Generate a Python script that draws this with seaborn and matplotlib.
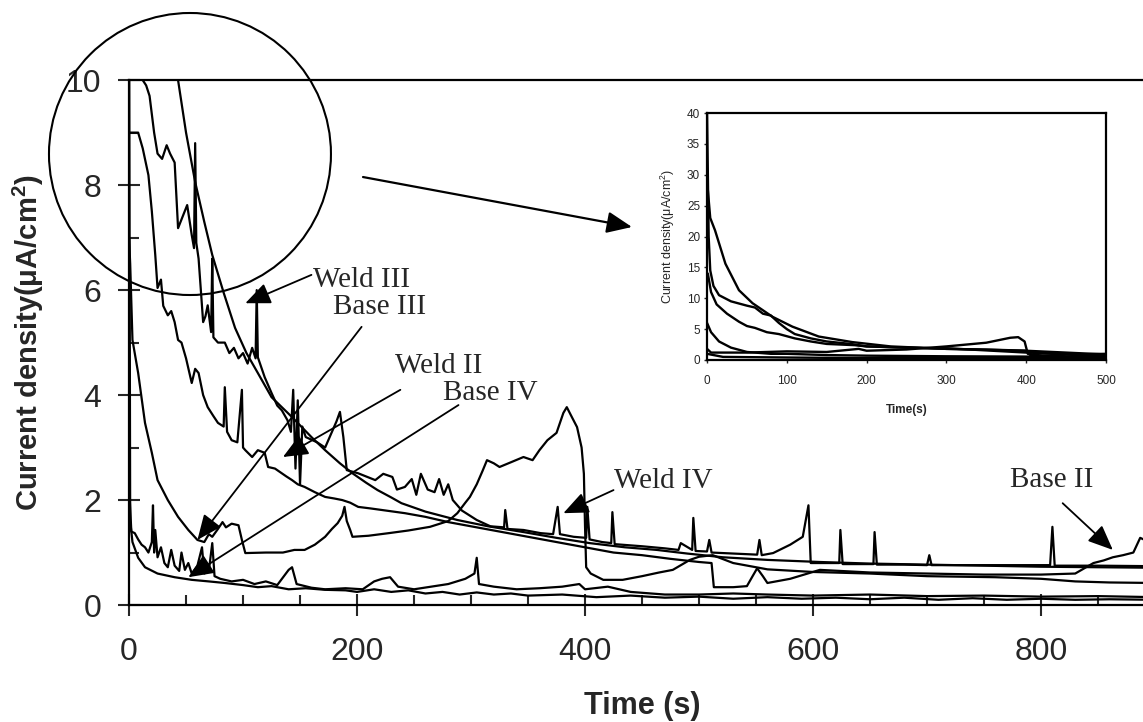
import numpy as np
import pandas as pd
import matplotlib
matplotlib.use('Agg')
import matplotlib.pyplot as plt
from matplotlib.patches import Ellipse
from matplotlib.ticker import MultipleLocator
import seaborn as sns

# main chart curves (time in s, current density in uA/cm2)
weld3_t = [38, 43, 50, 58, 66, 73, 83, 93, 103, 113, 125, 143, 160, 172, 185, 196, 208, 218, 230, 239,
           260, 288, 315, 346, 375, 404, 435, 463, 490, 521, 560, 606, 650, 700, 750, 800, 850, 900]
weld3_j = [11.0, 10.0, 9.0, 8.06, 7.3, 6.67, 5.95, 5.28, 4.8, 4.42, 3.96, 3.58, 3.2, 2.95, 2.7, 2.51, 2.33, 2.19, 2.05, 1.94,
           1.78, 1.62, 1.5, 1.39, 1.28, 1.18, 1.1, 1.05, 0.98, 0.91, 0.86, 0.82, 0.79, 0.77, 0.75, 0.73, 0.72, 0.71]

base3_t = [10, 12, 15, 18, 22, 25, 29, 33, 36, 40, 43, 47, 51, 55, 57, 58, 59, 61, 63, 65,
           67, 69, 72, 73, 74, 78, 84, 88, 92, 96, 100, 104, 108, 111, 112, 113, 119, 125, 130, 134,
           139, 142, 144, 146, 148, 150, 152, 155, 165, 172, 178, 182, 185, 188, 191, 201, 208, 216, 223, 231,
           235, 242, 248, 252, 256, 262, 268, 272, 276, 280, 284, 292, 305, 317, 329, 330, 332, 346, 361, 372,
           376, 378, 390, 401, 402, 404, 415, 423, 424, 426, 450, 470, 482, 484, 494, 495, 497, 507, 509, 511,
           530, 551, 553, 555, 565, 580, 591, 596, 598, 610, 623, 624, 626, 640, 653, 654, 656, 680, 700, 702,
           704, 740, 780, 808, 810, 812, 850, 900]
base3_j = [11.0, 10.0, 9.9, 9.7, 9.0, 8.6, 8.5, 8.76, 8.6, 8.43, 7.18, 7.4, 7.62, 7.05, 6.8, 8.8, 6.9, 6.6, 6.0, 5.39,
           5.5, 5.71, 5.2, 6.6, 5.1, 5.0, 5.0, 4.8, 4.9, 4.7, 4.8, 4.6, 4.9, 4.7, 6.0, 4.72, 4.34, 4.04, 3.8, 3.71,
           3.52, 3.3, 4.1, 2.6, 3.9, 2.3, 3.4, 3.2, 3.1, 3.0, 3.3, 3.5, 3.68, 3.2, 2.57, 2.51, 2.45, 2.38, 2.5, 2.44,
           2.2, 2.25, 2.4, 2.1, 2.5, 2.2, 2.15, 2.4, 2.1, 2.3, 2.0, 1.8, 1.62, 1.5, 1.48, 1.81, 1.45, 1.43, 1.37, 1.35,
           1.87, 1.35, 1.3, 1.28, 1.87, 1.25, 1.2, 1.18, 1.77, 1.16, 1.12, 1.08, 1.05, 1.18, 1.05, 1.66, 1.03, 1.02, 1.24, 1.0,
           0.98, 0.96, 1.24, 0.95, 0.99, 1.15, 1.3, 1.9, 0.8, 0.8, 0.8, 1.43, 0.78, 0.78, 0.78, 1.39, 0.77, 0.77, 0.76, 0.95,
           0.76, 0.76, 0.76, 0.76, 1.49, 0.75, 0.75, 0.74]

weld2_t = [0, 8, 12, 17, 20, 23, 25, 28, 30, 34, 37, 40, 43, 46, 50, 55, 58, 61, 65, 69,
           74, 78, 83, 84, 86, 90, 95, 99, 100, 102, 108, 113, 119, 122, 128, 134, 138, 143, 148, 154,
           163, 172, 180, 187, 194, 201, 212, 222, 232, 242, 260, 280, 300, 325, 350, 375, 400, 425, 450, 475,
           500, 511, 513, 530, 542, 547, 551, 556, 560, 580, 606, 650, 700, 750, 800, 830, 846, 855, 863, 872,
           881, 887, 895, 900]
weld2_j = [9.0, 9.0, 8.7, 8.19, 7.5, 6.67, 6.04, 6.2, 5.7, 5.52, 5.6, 5.39, 5.05, 5.0, 4.7, 4.23, 4.5, 4.42, 4.0, 3.77,
           3.6, 3.47, 3.4, 4.15, 3.3, 3.14, 3.1, 4.1, 3.0, 2.95, 2.82, 2.95, 2.9, 2.63, 2.6, 2.51, 2.45, 2.38, 2.3, 2.25,
           2.15, 2.06, 2.03, 2.0, 1.95, 1.87, 1.84, 1.81, 1.78, 1.75, 1.68, 1.58, 1.5, 1.4, 1.3, 1.2, 1.1, 1.0, 0.95, 0.88,
           0.82, 0.8, 0.34, 0.34, 0.36, 0.55, 0.7, 0.55, 0.42, 0.5, 0.67, 0.62, 0.6, 0.58, 0.58, 0.6, 0.8, 0.85, 0.91, 0.95,
           1.0, 1.28, 1.2, 1.3]

weld4_t = [0, 1, 3, 8, 14, 20, 25, 34, 43, 52, 60, 66, 70, 73, 78, 82, 85, 90, 96, 99,
           102, 120, 135, 145, 154, 163, 172, 178, 183, 187, 189, 191, 194, 196, 210, 228, 245, 264, 280, 288,
           295, 299, 305, 310, 314, 320, 325, 335, 346, 354, 360, 367, 375, 381, 384, 388, 393, 397, 399, 400,
           401, 405, 416, 433, 450, 465, 477, 492, 500, 512, 530, 560, 600, 650, 700, 760, 800, 830, 860, 900]
weld4_j = [7.0, 6.5, 5.05, 4.42, 3.47, 2.9, 2.38, 2.0, 1.68, 1.43, 1.24, 1.2, 1.35, 1.3, 1.45, 1.58, 1.48, 1.55, 1.52, 1.24,
           0.99, 1.0, 1.0, 1.05, 1.05, 1.15, 1.3, 1.45, 1.56, 1.7, 1.87, 1.6, 1.43, 1.3, 1.32, 1.37, 1.42, 1.49, 1.6, 1.75,
           1.95, 2.06, 2.3, 2.55, 2.76, 2.7, 2.63, 2.72, 2.82, 2.76, 2.95, 3.14, 3.28, 3.66, 3.77, 3.6, 3.39, 3.0, 2.5, 1.5,
           0.72, 0.6, 0.48, 0.48, 0.55, 0.62, 0.67, 0.86, 0.92, 0.95, 0.8, 0.68, 0.63, 0.6, 0.55, 0.53, 0.5, 0.45, 0.43, 0.42]

base4_t = [0, 2, 5, 8, 11, 14, 17, 20, 21, 22, 23, 25, 28, 31, 34, 37, 40, 44, 46, 49,
           52, 55, 60, 64, 66, 70, 73, 75, 80, 90, 100, 110, 120, 130, 140, 143, 147, 160, 172, 190,
           205, 215, 222, 229, 236, 250, 265, 280, 295, 303, 305, 307, 320, 340, 360, 380, 395, 400, 420, 440,
           470, 500, 530, 560, 600, 650, 700, 750, 800, 850, 900]
base4_j = [2.3, 1.4, 1.37, 1.25, 1.15, 1.1, 1.0, 1.2, 1.9, 1.0, 1.43, 0.91, 1.1, 0.8, 0.72, 1.05, 0.75, 0.65, 1.0, 0.67,
           0.8, 0.6, 0.75, 1.1, 0.6, 0.65, 1.18, 0.55, 0.5, 0.45, 0.48, 0.4, 0.45, 0.38, 0.67, 0.72, 0.4, 0.33, 0.3, 0.32,
           0.3, 0.45, 0.5, 0.53, 0.35, 0.3, 0.35, 0.4, 0.5, 0.6, 0.9, 0.4, 0.35, 0.3, 0.32, 0.35, 0.4, 0.3, 0.35, 0.25,
           0.2, 0.2, 0.22, 0.2, 0.18, 0.2, 0.17, 0.18, 0.16, 0.17, 0.15]

base2_t = [0, 1, 3, 8, 14, 25, 40, 55, 70, 84, 100, 113, 125, 140, 155, 172, 190, 200, 215, 230,
           245, 260, 275, 290, 305, 320, 335, 350, 380, 410, 440, 470, 500, 530, 560, 590, 620, 650, 680, 710,
           740, 770, 800, 830, 860, 900]
base2_j = [12.0, 1.6, 1.2, 0.9, 0.72, 0.6, 0.53, 0.48, 0.45, 0.42, 0.38, 0.34, 0.36, 0.3, 0.32, 0.29, 0.28, 0.25, 0.3, 0.25,
           0.28, 0.22, 0.25, 0.2, 0.24, 0.2, 0.22, 0.18, 0.2, 0.15, 0.18, 0.14, 0.16, 0.12, 0.15, 0.12, 0.14, 0.11, 0.14, 0.1,
           0.13, 0.1, 0.12, 0.1, 0.11, 0.1]

# inset curves (0-500 s)
in_a_t = [0, 1, 2, 4, 8, 15, 30, 50, 60, 70, 80, 90, 100, 110, 130, 150, 180, 200, 250, 300, 350, 400, 405, 450, 500]
in_a_j = [40, 30, 20, 14.5, 12, 10.5, 9.5, 8.8, 8.5, 7.5, 7.2, 6.0, 5.0, 4.2, 3.5, 3.0, 2.6, 2.2, 2.0, 1.8, 1.7, 1.5, 0.8, 0.6, 0.7]
in_b_t = [1, 4, 10, 23, 40, 57, 82, 107, 140, 182, 230, 300, 400, 500]
in_b_j = [27.5, 23, 21, 15.6, 11.3, 9.2, 7.0, 5.4, 3.8, 2.9, 2.2, 1.8, 1.5, 0.9]
in_c_t = [1, 5, 12, 25, 40, 50, 60, 75, 90, 110, 130, 150, 185, 200, 250, 300, 400, 500]
in_c_j = [14, 11, 9, 7.5, 6.2, 5.5, 5.2, 4.5, 4.2, 3.5, 3.0, 2.6, 2.4, 2.2, 2.0, 1.9, 1.2, 0.8]
in_d_t = [0, 5, 15, 30, 50, 80, 100, 150, 200, 300, 500]
in_d_j = [6, 4.5, 3, 2, 1.3, 1.0, 1.0, 0.8, 0.7, 0.6, 0.5]
in_e_t = [0, 5, 50, 100, 150, 190, 200, 250, 300, 350, 380, 390, 398, 402, 420, 450, 500]
in_e_j = [1.8, 1.2, 1.2, 1.4, 1.3, 1.8, 1.5, 1.7, 2.2, 2.8, 3.6, 3.7, 3.0, 1.0, 0.7, 0.9, 1.0]
in_f_t = [0, 20, 100, 200, 300, 400, 500]
in_f_j = [1.0, 0.5, 0.4, 0.3, 0.3, 0.3, 0.3]


def to_frame(curves):
    parts = [pd.DataFrame({'t': t, 'j': j, 'curve': name}) for name, t, j in curves]
    return pd.concat(parts, ignore_index=True)


main_df = to_frame([('Weld III', weld3_t, weld3_j), ('Base III', base3_t, base3_j),
                    ('Weld II', weld2_t, weld2_j), ('Weld IV', weld4_t, weld4_j),
                    ('Base IV', base4_t, base4_j), ('Base II', base2_t, base2_j)])
inset_df = to_frame([('a', in_a_t, in_a_j), ('b', in_b_t, in_b_j), ('c', in_c_t, in_c_j),
                     ('d', in_d_t, in_d_j), ('e', in_e_t, in_e_j), ('f', in_f_t, in_f_j)])

sns.set_style('ticks')
plt.rcParams['font.family'] = ['Liberation Sans', 'DejaVu Sans']
plt.rcParams['mathtext.fontset'] = 'custom'
plt.rcParams['mathtext.rm'] = 'Liberation Sans'
plt.rcParams['mathtext.bf'] = 'Liberation Sans:bold'

fig = plt.figure(figsize=(11.43, 7.22), dpi=100)
ax = fig.add_axes([0.1129, 0.162, 0.8976, 0.727])

sns.lineplot(data=main_df, x='t', y='j', units='curve', estimator=None, sort=False,
             color='black', lw=1.6, ax=ax, legend=False)

ax.set_xlim(0, 900)
ax.set_ylim(0, 10)
ax.set_xticks([0, 200, 400, 600, 800])
ax.set_yticks([0, 2, 4, 6, 8, 10])
ax.xaxis.set_minor_locator(MultipleLocator(50))
ax.yaxis.set_minor_locator(MultipleLocator(1))
ax.xaxis.set_ticks_position('bottom')
ax.yaxis.set_ticks_position('left')
ax.tick_params(which='major', direction='inout', length=16, width=1.5, labelsize=23)
ax.tick_params(which='minor', direction='in', length=7, width=1.5)
ax.tick_params(axis='x', which='major', pad=15)
ax.tick_params(axis='y', which='major', pad=12)
for side in ['left', 'bottom', 'top']:
    ax.spines[side].set_linewidth(1.6)
    ax.spines[side].set_color('black')
ax.spines['right'].set_visible(False)

ax.set_xlabel('Time (s)', fontsize=22, fontweight='bold')
ax.set_ylabel('Current density(μA/cm$^\\mathbf{2}$)', fontsize=21, fontweight='bold')
ax.xaxis.set_label_coords(0.5, -0.164)
ax.yaxis.set_label_coords(-0.081, 0.5)

# curve labels with arrows
labels = ['Weld III', 'Base III', 'Weld II', 'Base IV', 'Weld IV', 'Base II']
label_pos = [(161, 6.19), (179, 5.68), (233, 4.55), (275, 4.04), (425, 2.36), (773, 2.38)]
arrow_tail = [(160, 6.29), (204, 5.3), (238, 4.1), (289, 3.81), (425, 2.19), (819, 1.94)]
arrow_head = [(102, 5.75), (60, 1.24), (135, 2.82), (52, 0.53), (381, 1.75), (863, 1.05)]
for txt, pos, tail, head in zip(labels, label_pos, arrow_tail, arrow_head):
    ax.text(pos[0], pos[1], txt, fontsize=21, family=['Liberation Serif', 'DejaVu Serif'],
            ha='left', va='center')
    ax.annotate('', xy=head, xytext=tail,
                arrowprops=dict(arrowstyle='-|>,head_length=0.7,head_width=0.3',
                                color='black', lw=1.3, mutation_scale=22, shrinkA=0, shrinkB=0))

# circle around the early part and the arrow to the inset
fig.patches.append(Ellipse((0.1662, 0.7867), 0.2467, 0.3906, transform=fig.transFigure,
                           fill=False, edgecolor='black', lw=1.5))
ax.annotate('', xy=(0.5529, 0.6856), xycoords='figure fraction',
            xytext=(0.3176, 0.7548), textcoords='figure fraction',
            arrowprops=dict(arrowstyle='-|>,head_length=0.7,head_width=0.3',
                            color='black', lw=1.6, mutation_scale=22, shrinkA=0, shrinkB=0))

# inset: the full range
ax2 = fig.add_axes([0.6186, 0.5014, 0.349, 0.342])
sns.lineplot(data=inset_df, x='t', y='j', units='curve', estimator=None, sort=False,
             color='black', lw=1.7, ax=ax2, legend=False)
ax2.set_xlim(0, 500)
ax2.set_ylim(0, 40)
ax2.set_xticks(range(0, 501, 100))
ax2.set_yticks(range(0, 41, 5))
ax2.tick_params(axis='y', direction='out', length=2, width=1, labelsize=8.5, pad=3)
ax2.tick_params(axis='x', direction='out', length=2, width=1, labelsize=8.5, pad=9)
for sp in ax2.spines.values():
    sp.set_linewidth(1.6)
    sp.set_color('black')
ax2.set_xlabel('Time(s)', fontsize=8.5, fontweight='bold')
ax2.set_ylabel('Current density(μA/cm$^2$)', fontsize=9)
ax2.xaxis.set_label_coords(0.5, -0.18)
ax2.yaxis.set_label_coords(-0.075, 0.5)

fig.savefig('out.png', dpi=100)
